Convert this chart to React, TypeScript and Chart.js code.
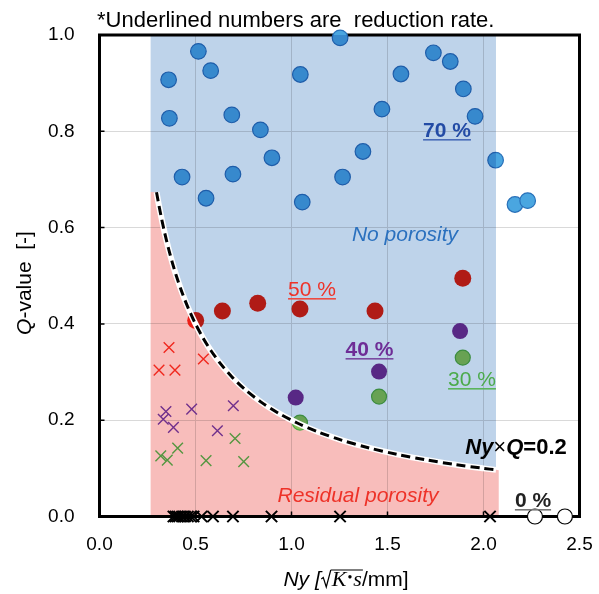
import React, { useEffect, useRef } from 'react';
import { Chart, registerables } from 'chart.js';

// ---------- data ----------
const X_TICKS = [0, 0.5, 1.0, 1.5, 2.0, 2.5];
const Y_TICKS = [0, 0.2, 0.4, 0.6, 0.8, 1.0];

// 70 % reduction (blue circles)
const R70_NY = [0.515, 0.36, 0.579, 0.364, 0.689, 0.838, 0.898, 0.43, 0.695, 0.555, 1.046, 1.056, 1.253, 1.266, 1.372, 1.471, 1.57, 1.739, 1.827, 1.895, 1.956, 2.063, 2.164, 2.23];
const R70_Q = [0.966, 0.907, 0.926, 0.827, 0.834, 0.803, 0.745, 0.705, 0.711, 0.661, 0.918, 0.653, 0.994, 0.705, 0.758, 0.846, 0.919, 0.963, 0.945, 0.888, 0.831, 0.74, 0.648, 0.656];
// 50 % reduction (red circles)
const R50_NY = [0.501, 0.64, 0.824, 1.044, 1.435, 1.892];
const R50_Q = [0.407, 0.427, 0.443, 0.431, 0.427, 0.495];
// 40 % reduction (purple circles)
const R40_NY = [1.022, 1.456, 1.878];
const R40_Q = [0.247, 0.301, 0.385];
// 30 % reduction (green circles)
const R30_NY = [1.044, 1.456, 1.892];
const R30_Q = [0.195, 0.249, 0.33];
// residual porosity (crosses)
const X50_NY = [0.362, 0.31, 0.393, 0.541];
const X50_Q = [0.351, 0.304, 0.304, 0.327];
const X40_NY = [0.346, 0.332, 0.385, 0.48, 0.697, 0.614];
const X40_Q = [0.218, 0.202, 0.185, 0.223, 0.23, 0.178];
const X30_NY = [0.319, 0.353, 0.407, 0.555, 0.706, 0.751];
const X30_Q = [0.126, 0.117, 0.142, 0.116, 0.162, 0.114];
// 0 % reduction
const R0X_NY = [0.385, 0.395, 0.405, 0.415, 0.43, 0.445, 0.46, 0.475, 0.49, 0.532, 0.591, 0.695, 0.896, 1.253, 2.034];
const R0X_Q = [0, 0, 0, 0, 0, 0, 0, 0, 0, 0, 0, 0, 0, 0, 0];
const R0O_NY = [2.268, 2.424];
const R0O_Q = [0, 0];

// boundary Ny x Q = 0.2
const NYQ = 0.2;
const CURVE_NY = [0.297, 0.31, 0.325, 0.34, 0.36, 0.38, 0.4, 0.43, 0.46, 0.5, 0.54, 0.58, 0.63, 0.69, 0.76, 0.84, 0.93, 1.03, 1.14, 1.26, 1.4, 1.55, 1.7, 1.85, 2.0, 2.065, 2.08];
const REGION_LEFT_NY = 0.265;
const REGION_TOP_Q = 0.674;
const BLUE_RIGHT_NY = 2.065;
const PINK_RIGHT_NY = 2.08;
const DASH_RIGHT_NY = 2.07;

const zip = (xs: number[], ys: number[]) => xs.map((x, i) => ({ x, y: ys[i] }));
const curve = (maxNy: number) => CURVE_NY.filter((n) => n <= maxNy).map((n) => ({ x: n, y: NYQ / n }));

const SANS = '"Liberation Sans", Arial, sans-serif';
const SERIF = '"Liberation Serif", "Times New Roman", serif';

// composite plugin registered before the filler so its hook runs first
const multiplyPlugin = {
  id: 'multiplyFill',
  beforeDatasetDraw(chart: any, args: any) {
    const ds = chart.data.datasets[args.index];
    if (ds && ds.multiply) {
      chart.ctx.save();
      chart.ctx.globalCompositeOperation = 'multiply';
    }
  },
  afterDatasetDraw(chart: any, args: any) {
    const ds = chart.data.datasets[args.index];
    if (ds && ds.multiply) chart.ctx.restore();
  },
};
Chart.register(multiplyPlugin as any);
Chart.register(...registerables);

const frame = {
  id: 'frame',
  beforeDatasetsDraw(chart: any) {
    const { ctx, chartArea: a, scales } = chart;
    ctx.save();
    ctx.strokeStyle = '#000';
    ctx.lineWidth = 1.5;
    ctx.beginPath();
    Y_TICKS.forEach((t) => {
      const y = scales.y.getPixelForValue(t);
      ctx.moveTo(a.left, y);
      ctx.lineTo(a.left + 5, y);
    });
    X_TICKS.forEach((t) => {
      const x = scales.x.getPixelForValue(t);
      ctx.moveTo(x, a.bottom);
      ctx.lineTo(x, a.bottom - 5);
    });
    ctx.stroke();
    ctx.lineWidth = 3;
    ctx.strokeRect(a.left, a.top, a.right - a.left, a.bottom - a.top);
    ctx.restore();
  },
};

type Seg = { t: string; f: string };
function segWidth(ctx: CanvasRenderingContext2D, segs: Seg[]) {
  let w = 0;
  segs.forEach((s) => {
    ctx.font = s.f;
    w += ctx.measureText(s.t).width;
  });
  return w;
}
function drawSegs(ctx: CanvasRenderingContext2D, segs: Seg[], cx: number, by: number, color: string, underline?: string) {
  const w = segWidth(ctx, segs);
  let x = cx - w / 2;
  ctx.fillStyle = color;
  ctx.textBaseline = 'alphabetic';
  ctx.textAlign = 'left';
  segs.forEach((s) => {
    ctx.font = s.f;
    ctx.fillText(s.t, x, by);
    x += ctx.measureText(s.t).width;
  });
  if (underline) {
    ctx.fillStyle = underline;
    ctx.fillRect(cx - w / 2, by + 2, w, 1.6);
  }
}

const texts = {
  id: 'texts',
  afterDatasetsDraw(chart: any) {
    const ctx: CanvasRenderingContext2D = chart.ctx;
    ctx.save();
    const B = `bold 21px ${SANS}`;
    const N = `21px ${SANS}`;
    drawSegs(ctx, [{ t: '70 %', f: B }], 447, 137, '#234BA5', '#4A6CB8');
    drawSegs(ctx, [{ t: 'No porosity', f: `italic 21px ${SANS}` }], 405, 241, '#2A70BE');
    drawSegs(ctx, [{ t: '50 %', f: N }], 312, 296, '#EE3228', '#EE4A40');
    drawSegs(ctx, [{ t: '40 %', f: B }], 369.5, 356, '#6E2D96', '#7A4AA0');
    drawSegs(ctx, [{ t: '30 %', f: N }], 472, 386, '#4BAA4B', '#5BB45B');
    drawSegs(ctx, [{ t: 'Residual porosity', f: `italic 21px ${SANS}` }], 358, 502, '#EE3228');
    drawSegs(ctx, [{ t: '0 %', f: B }], 533, 507, '#222', '#777');
    drawSegs(
      ctx,
      [
        { t: 'Ny', f: `italic bold 22px ${SANS}` },
        { t: '×', f: `22px ${SANS}` },
        { t: 'Q', f: `italic bold 22px ${SANS}` },
        { t: '=0.2', f: `bold 22px ${SANS}` },
      ],
      516,
      454,
      '#000'
    );
    ctx.restore();
  },
  afterDraw(chart: any) {
    const ctx: CanvasRenderingContext2D = chart.ctx;
    ctx.save();
    // top note
    ctx.fillStyle = '#000';
    ctx.font = `22px ${SANS}`;
    ctx.textAlign = 'left';
    ctx.textBaseline = 'alphabetic';
    ctx.fillText('*Underlined numbers are  reduction rate.', 97, 27);

    // x title: Ny [√K·s/mm]
    const by = 586;
    const parts: { t: string; f: string; rad?: boolean; over?: boolean }[] = [
      { t: 'Ny', f: `italic 21px ${SANS}` },
      { t: ' [', f: `italic 21px ${SANS}` },
      { t: '', f: '', rad: true },
      { t: 'K', f: `italic 22px ${SERIF}`, over: true },
      { t: '•', f: `14px ${SERIF}`, over: true },
      { t: 's', f: `italic 22px ${SERIF}`, over: true },
      { t: '/mm]', f: `21px ${SANS}` },
    ];
    const radW = 11;
    let total = 0;
    parts.forEach((p) => {
      if (p.rad) total += radW;
      else {
        ctx.font = p.f;
        total += ctx.measureText(p.t).width + (p.t === '•' ? 2 : 0);
      }
    });
    let x = 346 - total / 2;
    let overStart = 0;
    let overEnd = 0;
    const topY = by - 16;
    parts.forEach((p) => {
      if (p.rad) {
        ctx.strokeStyle = '#000';
        ctx.lineWidth = 1.2;
        ctx.beginPath();
        ctx.moveTo(x + 0.5, by - 7);
        ctx.lineTo(x + 2.5, by - 8.5);
        ctx.lineTo(x + 5.5, by + 1);
        ctx.lineTo(x + 10, topY);
        ctx.stroke();
        overStart = x + 10;
        x += radW;
        return;
      }
      ctx.font = p.f;
      const w = ctx.measureText(p.t).width;
      if (p.t === '•') {
        ctx.fillText(p.t, x + 1, by - 4);
        x += w + 2;
      } else {
        ctx.fillText(p.t, x, by);
        x += w;
      }
      if (p.over) overEnd = x;
    });
    ctx.beginPath();
    ctx.moveTo(overStart, topY);
    ctx.lineTo(overEnd + 1, topY);
    ctx.stroke();

    // y title: Q-value  [-]
    ctx.translate(31, 283);
    ctx.rotate(-Math.PI / 2);
    drawSegs(
      ctx,
      [
        { t: 'Q', f: `italic 21px ${SANS}` },
        { t: '-value  [-]', f: `21px ${SANS}` },
      ],
      0,
      0,
      '#000'
    );
    ctx.restore();
  },
};

export default function App() {
  const ref = useRef<HTMLCanvasElement>(null);
  useEffect(() => {
    document.body.style.margin = '0';
    const circle = (data: any, bg: string, border: string, r: number, bw: number, order: number) => ({
      type: 'scatter',
      data,
      pointStyle: 'circle',
      pointRadius: r,
      pointHoverRadius: r,
      backgroundColor: bg,
      borderColor: border,
      pointBorderWidth: bw,
      borderWidth: bw,
      showLine: false,
      clip: false,
      order,
    });
    const cross = (data: any, color: string, r: number, bw: number, order: number) => ({
      type: 'scatter',
      data,
      pointStyle: 'crossRot',
      pointRadius: r,
      pointHoverRadius: r,
      backgroundColor: color,
      borderColor: color,
      pointBorderWidth: bw,
      borderWidth: bw,
      showLine: false,
      clip: false,
      order,
    });
    const pink = [{ x: REGION_LEFT_NY, y: REGION_TOP_Q }, ...curve(PINK_RIGHT_NY)];
    const blue = [{ x: REGION_LEFT_NY, y: REGION_TOP_Q }, ...curve(BLUE_RIGHT_NY)];
    const dash = curve(DASH_RIGHT_NY);

    const chart = new Chart(ref.current as HTMLCanvasElement, {
      type: 'scatter',
      data: {
        datasets: [
          {
            type: 'line',
            data: pink,
            fill: 'origin',
            backgroundColor: 'rgb(248,189,187)',
            borderWidth: 0,
            pointRadius: 0,
            tension: 0,
            order: 50,
            multiply: true,
          } as any,
          cross(zip(X50_NY, X50_Q), 'rgb(240,40,30)', 7.5, 1.4, 40),
          cross(zip(X40_NY, X40_Q), 'rgb(112,48,140)', 7.5, 1.4, 40),
          cross(zip(X30_NY, X30_Q), 'rgb(84,150,64)', 7.5, 1.4, 40),
          cross(zip(R0X_NY, R0X_Q), '#000', 8, 2, 40),
          circle(zip(R0O_NY, R0O_Q), '#fff', '#000', 7.5, 1.2, 40),
          circle(zip(R70_NY, R70_Q), 'rgb(74,166,224)', 'rgb(40,112,185)', 7.8, 1.2, 40),
          circle(zip(R50_NY, R50_Q), 'rgb(236,32,24)', 'rgb(236,32,24)', 8.5, 0, 40),
          circle(zip(R40_NY, R40_Q), 'rgb(118,48,145)', 'rgb(118,48,145)', 8, 0, 40),
          circle(zip(R30_NY, R30_Q), 'rgb(140,196,90)', 'rgb(80,170,70)', 7.5, 1.2, 40),
          {
            type: 'line',
            data: blue,
            fill: 'end',
            backgroundColor: 'rgb(190,211,234)',
            borderWidth: 0,
            pointRadius: 0,
            tension: 0,
            order: 20,
            multiply: true,
          } as any,
          {
            type: 'line',
            data: dash,
            fill: false,
            borderColor: '#fff',
            borderWidth: 6,
            pointRadius: 0,
            tension: 0.3,
            order: 10,
          } as any,
          {
            type: 'line',
            data: dash,
            fill: false,
            borderColor: '#000',
            borderWidth: 3,
            borderDash: [9, 5],
            pointRadius: 0,
            tension: 0.3,
            order: 5,
          } as any,
        ] as any,
      },
      options: {
        responsive: false,
        animation: false,
        events: [],
        layout: { padding: { top: 35, right: 19.5, left: 0, bottom: 0 } },
        plugins: {
          legend: { display: false },
          tooltip: { enabled: false },
          filler: { drawTime: 'beforeDatasetDraw' } as any,
        },
        scales: {
          x: {
            type: 'linear',
            min: 0,
            max: 2.5,
            afterBuildTicks: (s: any) => {
              s.ticks = X_TICKS.map((v) => ({ value: v }));
            },
            afterFit: (s: any) => {
              s.height = 77.5;
              s.paddingLeft = 0;
              s.paddingRight = 0;
            },
            ticks: {
              autoSkip: false,
              maxRotation: 0,
              padding: 17,
              color: '#000',
              font: { family: SANS, size: 19 },
              callback: (v: any) => Number(v).toFixed(1),
            },
            grid: { color: '#d9d9d9', lineWidth: 1, drawTicks: false },
            border: { display: false },
          },
          y: {
            type: 'linear',
            min: 0,
            max: 1,
            afterBuildTicks: (s: any) => {
              s.ticks = Y_TICKS.map((v) => ({ value: v }));
            },
            afterFit: (s: any) => {
              s.width = 99.5;
              s.paddingTop = 0;
              s.paddingBottom = 0;
            },
            ticks: {
              padding: 25,
              color: '#000',
              font: { family: SANS, size: 19 },
              callback: (v: any) => Number(v).toFixed(1),
            },
            grid: { color: '#d9d9d9', lineWidth: 1, drawTicks: false },
            border: { display: false },
          },
        },
      } as any,
      plugins: [frame, texts],
    });
    return () => chart.destroy();
  }, []);
  return (
    <div style={{ width: 599, height: 594 }}>
      <canvas ref={ref} width={599} height={594} style={{ display: 'block' }} />
    </div>
  );
}
